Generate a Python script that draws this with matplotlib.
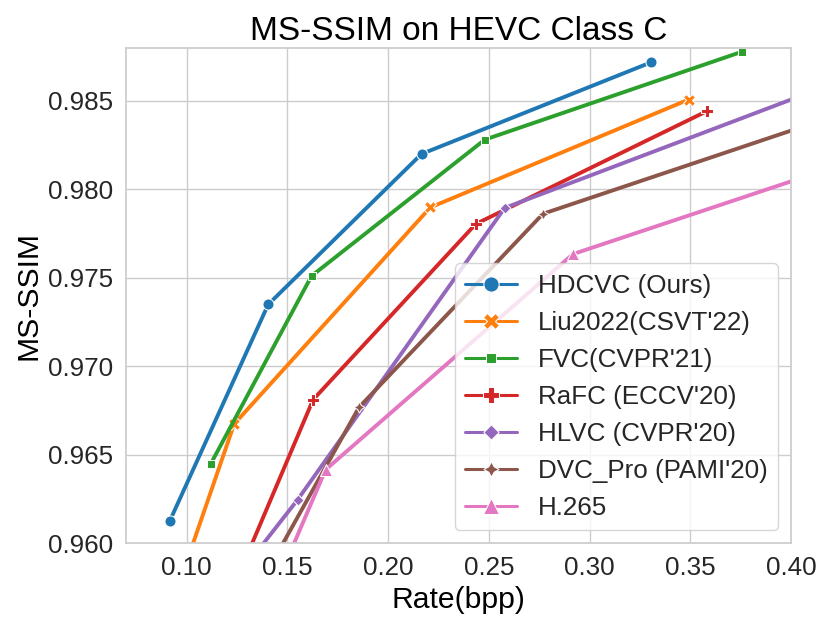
import matplotlib
matplotlib.use("Agg")
import matplotlib.pyplot as plt
import pandas as pd
import seaborn as sns

methods = ["HDCVC (Ours)", "Liu2022(CSVT'22)", "FVC(CVPR'21)", "RaFC (ECCV'20)",
           "HLVC (CVPR'20)", "DVC_Pro (PAMI'20)", "H.265"]

hdcvc_bpp = [0.0917, 0.1405, 0.2166, 0.3307]
hdcvc_ssim = [0.96126, 0.97349, 0.98200, 0.98719]
liu_bpp = [0.0957, 0.1236, 0.2210, 0.3492]
liu_ssim = [0.9575, 0.96673, 0.97898, 0.98508]
fvc_bpp = [0.1119, 0.1620, 0.2480, 0.3756]
fvc_ssim = [0.96446, 0.97510, 0.98281, 0.98778]
rafc_bpp = [0.1270, 0.1628, 0.2435, 0.3582]
rafc_ssim = [0.9585, 0.96811, 0.97804, 0.98442]
hlvc_bpp = [0.1246, 0.1551, 0.2579, 0.4500]
hlvc_ssim = [0.9580, 0.96245, 0.97895, 0.98723]
dvcpro_bpp = [0.1332, 0.1856, 0.2769, 0.4500]
dvcpro_ssim = [0.9570, 0.96768, 0.97862, 0.98523]
h265_bpp = [0.1346, 0.1690, 0.2918, 0.4500]
h265_ssim = [0.9550, 0.96415, 0.97634, 0.98235]

all_bpp = [hdcvc_bpp, liu_bpp, fvc_bpp, rafc_bpp, hlvc_bpp, dvcpro_bpp, h265_bpp]
all_ssim = [hdcvc_ssim, liu_ssim, fvc_ssim, rafc_ssim, hlvc_ssim, dvcpro_ssim, h265_ssim]

rows = []
for name, xs, ys in zip(methods, all_bpp, all_ssim):
    for x, y in zip(xs, ys):
        rows.append({"method": name, "bpp": x, "ssim": y})
df = pd.DataFrame(rows)

sns.set_theme(style="whitegrid", palette="tab10", font_scale=1.7)
plt.rcParams["font.family"] = ["Liberation Sans", "DejaVu Sans"]

fig = plt.figure(figsize=(8.3, 6.3), dpi=100)
ax = fig.add_axes([0.152, 0.138, 0.801, 0.786])

sns.lineplot(data=df, x="bpp", y="ssim", hue="method", style="method",
             markers=True, dashes=False, sort=False, linewidth=2.8,
             markersize=8, ax=ax, hue_order=methods, style_order=methods)

ax.set_xlim(0.07, 0.40)
ax.set_ylim(0.960, 0.988)
ax.set_xticks([0.10, 0.15, 0.20, 0.25, 0.30, 0.35, 0.40])
ax.set_yticks([0.960, 0.965, 0.970, 0.975, 0.980, 0.985])
ax.set_xlabel("Rate(bpp)", fontsize=21.7, color="black")
ax.set_ylabel("MS-SSIM", fontsize=21.7, color="black")
ax.set_title("MS-SSIM on HEVC Class C", fontsize=24, color="black")
leg = ax.legend(loc="lower right", fontsize=18.7, title=None)
for h in leg.get_lines():
    h.set_linewidth(2.2)
    h.set_markersize(11)

fig.savefig("out.png", dpi=100)
